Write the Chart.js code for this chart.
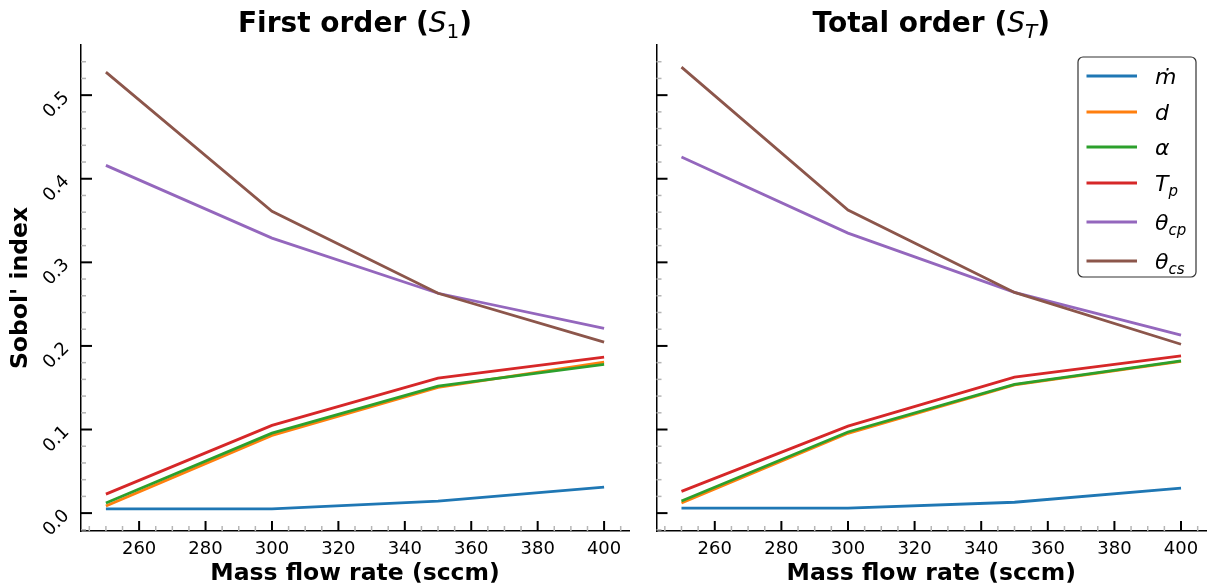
<!DOCTYPE html>
<html>
<head>
<meta charset="utf-8">
<script src="https://cdn.jsdelivr.net/npm/chart.js@4.4.1/dist/chart.umd.min.js"></script>
<style>
  html, body { margin: 0; padding: 0; background: #fff; }
  #wrap { position: relative; width: 1210px; height: 585px; }
  #chart1 { position: absolute; left: 0; top: 0; }
  #chart2 { position: absolute; left: 640px; top: 0; }
</style>
</head>
<body>
<div id="wrap">
  <canvas id="chart1" width="640" height="585"></canvas>
  <canvas id="chart2" width="570" height="585"></canvas>
</div>
<script>
const massFlow = [250, 300, 350, 400];
const xTicks = [260, 280, 300, 320, 340, 360, 380, 400];
const yTicks = [0.0, 0.1, 0.2, 0.3, 0.4, 0.5];
const paramLabels = ['ṁ', 'd', 'α', 'T_p', 'θ_cp', 'θ_cs'];
const colors = ['#1f77b4', '#ff7f0e', '#2ca02c', '#d62728', '#9467bd', '#8c564b'];

// first order indices S1
const firstMdot  = [0.005, 0.005, 0.0144, 0.031];
const firstD     = [0.0085, 0.093, 0.1505, 0.1805];
const firstAlpha = [0.012, 0.0957, 0.152, 0.178];
const firstTp    = [0.0227, 0.105, 0.1615, 0.1865];
const firstThCp  = [0.416, 0.329, 0.263, 0.221];
const firstThCs  = [0.5275, 0.361, 0.263, 0.2045];

// total order indices ST
const totalMdot  = [0.006, 0.006, 0.013, 0.030];
const totalD     = [0.012, 0.0955, 0.1535, 0.1815];
const totalAlpha = [0.0144, 0.097, 0.154, 0.182];
const totalTp    = [0.026, 0.104, 0.1627, 0.188];
const totalThCp  = [0.426, 0.335, 0.264, 0.213];
const totalThCs  = [0.5335, 0.3625, 0.264, 0.202];

const firstSeries = [firstMdot, firstD, firstAlpha, firstTp, firstThCp, firstThCs];
const totalSeries = [totalMdot, totalD, totalAlpha, totalTp, totalThCp, totalThCs];

const FONT = 'DejaVu Sans';
const LW = 2.8;

function makeDatasets(series) {
    return series.map((vals, i) => ({
        label: paramLabels[i],
        data: massFlow.map((m, j) => ({x: m, y: vals[j]})),
        borderColor: colors[i],
        backgroundColor: colors[i],
        borderWidth: LW,
        pointRadius: 0,
        tension: 0,
        fill: false,
        order: series.length - i
    }));
}

// draw text made of parts (normal / subscript)
function drawParts(ctx, parts, x, y, align) {
    let total = 0;
    parts.forEach(p => { ctx.font = p.font; p.w = ctx.measureText(p.text).width; total += p.w; });
    let cx = align === 'center' ? x - total / 2 : x;
    ctx.textAlign = 'left';
    ctx.textBaseline = 'alphabetic';
    parts.forEach(p => {
        ctx.font = p.font;
        ctx.fillText(p.text, cx, y + (p.dy || 0));
        cx += p.w;
    });
}

function mathParts(label, size) {
    const [main, sub] = label.split('_');
    const parts = [{text: main, font: `italic ${size}px ${FONT}`}];
    if (sub) parts.push({text: sub, font: `italic ${Math.round(size * 0.7)}px ${FONT}`, dy: 5});
    return parts;
}

const axisDecor = {
    id: 'axisDecor',
    afterDraw(chart, args, opts) {
        const {ctx, chartArea: a, scales: {x, y}} = chart;
        ctx.save();
        ctx.lineCap = 'butt';
        // minor ticks
        ctx.strokeStyle = '#b5b5b5';
        ctx.lineWidth = 1.5;
        for (let v = 245; v <= 405; v += 5) {
            if (v % 20 === 0) continue;
            const px = x.getPixelForValue(v);
            ctx.beginPath(); ctx.moveTo(px, a.bottom); ctx.lineTo(px, a.bottom - 5); ctx.stroke();
        }
        for (let k = -1; k <= 28; k++) {
            if (k % 5 === 0) continue;
            const v = k * 0.02;
            if (v < y.min || v > y.max - 0.001) continue;
            const py = y.getPixelForValue(v);
            ctx.beginPath(); ctx.moveTo(a.left, py); ctx.lineTo(a.left + 5, py); ctx.stroke();
        }
        // major ticks
        ctx.strokeStyle = '#000';
        ctx.lineWidth = 2;
        xTicks.forEach(v => {
            const px = x.getPixelForValue(v);
            ctx.beginPath(); ctx.moveTo(px, a.bottom); ctx.lineTo(px, a.bottom - 10); ctx.stroke();
        });
        yTicks.forEach(v => {
            const py = y.getPixelForValue(v);
            ctx.beginPath(); ctx.moveTo(a.left, py); ctx.lineTo(a.left + 11, py); ctx.stroke();
        });
        // rotated y tick labels
        if (opts.yLabels) {
            ctx.fillStyle = '#000';
            ctx.font = `18px ${FONT}`;
            ctx.textAlign = 'center';
            ctx.textBaseline = 'middle';
            yTicks.forEach(v => {
                const py = y.getPixelForValue(v);
                ctx.save();
                ctx.translate(a.left - 24.5, py + 10);
                ctx.rotate(-Math.PI / 4);
                ctx.fillText(v.toFixed(1), 0, 0);
                ctx.restore();
            });
        }
        // title
        ctx.fillStyle = '#000';
        const tc = (a.left + a.right) / 2;
        drawParts(ctx, [
            {text: opts.title, font: `bold 28px ${FONT}`},
            {text: 'S', font: `italic 28px ${FONT}`},
            {text: opts.sub, font: `${opts.subItalic ? 'italic ' : ''}20px ${FONT}`, dy: 6},
            {text: ')', font: `bold 28px ${FONT}`}
        ], tc, 32, 'center');
        // legend
        if (opts.legend) {
            const lx = 438, ly = 57, lw = 118, lh = 220;
            ctx.fillStyle = '#fff';
            ctx.strokeStyle = '#333';
            ctx.lineWidth = 1.2;
            ctx.beginPath();
            ctx.roundRect(lx, ly, lw, lh, 5);
            ctx.fill(); ctx.stroke();
            const rows = [76, 112, 147, 183, 222, 261];
            paramLabels.forEach((lab, i) => {
                ctx.strokeStyle = colors[i];
                ctx.lineWidth = LW;
                ctx.beginPath(); ctx.moveTo(446.5, rows[i]); ctx.lineTo(497, rows[i]); ctx.stroke();
                ctx.fillStyle = '#000';
                drawParts(ctx, mathParts(lab, 22), 515, rows[i] + 8, 'left');
            });
        }
        ctx.restore();
    }
};

function makeChart(id, series, cfg) {
    return new Chart(document.getElementById(id), {
        type: 'line',
        data: {datasets: makeDatasets(series)},
        options: {
            responsive: false,
            animation: false,
            devicePixelRatio: 1,
            layout: {padding: {top: 45, right: cfg.padRight, left: 0, bottom: 0}},
            plugins: {
                legend: {display: false},
                tooltip: {enabled: false},
                axisDecor: {title: cfg.title, sub: cfg.sub, subItalic: cfg.subItalic, yLabels: cfg.yLabels, legend: cfg.legend}
            },
            scales: {
                x: {
                    type: 'linear',
                    min: 242.5,
                    max: 407.5,
                    afterBuildTicks: s => { s.ticks = xTicks.map(v => ({value: v})); },
                    afterFit: s => { s.height = 54; },
                    grid: {display: false, drawTicks: false},
                    border: {display: true, color: '#000', width: 1.5},
                    ticks: {color: '#000', font: {family: FONT, size: 18}, padding: 8, maxRotation: 0, autoSkip: false},
                    title: {display: true, text: 'Mass flow rate (sccm)', color: '#000',
                            font: {family: FONT, size: 23.5, weight: 'bold'}, padding: {top: 0, bottom: -3}}
                },
                y: {
                    type: 'linear',
                    min: -0.0214,
                    max: 0.56,
                    afterBuildTicks: s => { s.ticks = yTicks.map(v => ({value: v})); },
                    afterFit: s => { s.width = cfg.yWidth; },
                    grid: {display: false, drawTicks: false},
                    border: {display: true, color: '#000', width: 1.5},
                    ticks: {display: false},
                    title: {display: cfg.yLabels, text: "Sobol' index", color: '#000',
                            font: {family: FONT, size: 23.5, weight: 'bold'}, padding: {top: 7}}
                }
            }
        },
        plugins: [axisDecor]
    });
}

makeChart('chart1', firstSeries, {title: 'First order (', sub: '1', subItalic: false, yLabels: true, legend: false, yWidth: 81, padRight: 11});
makeChart('chart2', totalSeries, {title: 'Total order (', sub: 'T', subItalic: true, yLabels: false, legend: true, yWidth: 16.5, padRight: 4});
</script>
</body>
</html>
